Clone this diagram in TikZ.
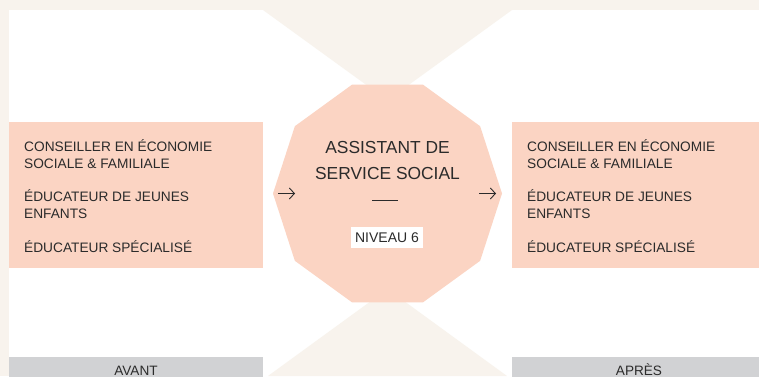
\documentclass[tikz,border=0pt]{standalone}
\usepackage{fontspec}
\setmainfont{Liberation Sans}
\usetikzlibrary{arrows.meta, positioning, shapes.geometric}
\definecolor{beige}{HTML}{F8F3ED}
\definecolor{peche}{HTML}{FBD4C3}
\definecolor{gris}{HTML}{D1D2D4}
\definecolor{encre}{HTML}{2B2B2B}
\tikzset{
    liste/.style = {fill=peche, anchor=north west, inner sep=0pt, outer sep=0pt, minimum width=254pt, minimum height=146pt},
    metier/.style = {anchor=base west, align=left, inner sep=0pt, text=encre, font=\fontsize{13.7}{16.6}\selectfont},
    barre/.style = {fill=gris, anchor=north west, inner sep=0pt, outer sep=0pt, minimum width=254pt, minimum height=30pt},
    etiquette/.style = {anchor=base, inner sep=0pt, text=encre, font=\fontsize{13.6}{16}\selectfont},
    diplome/.style = {regular polygon, regular polygon sides=10, fill=peche, inner sep=0pt, outer sep=0pt, minimum size=229pt},
    niveau/.style = {fill=white, inner sep=0pt, minimum width=72pt, minimum height=21pt, text=encre, font=\fontsize{14}{16}\selectfont}
}

\begin{document}
\begin{tikzpicture}[x=1pt, y=1pt, >={Straight Barb[length=5pt, width=11pt]}]
    \clip (0,0) rectangle (759,376);
    % Fond
    \fill[beige] (0,0) rectangle (759,376);
    \fill[white] (9,0) rectangle (759,366);
    \fill[beige] (263,366) -- (512,366) -- (387.5,275.7) -- cycle;
    \fill[beige] (268,0) -- (507,0) -- (387.5,87) -- cycle;
    % Noeuds
    \node[diplome] (dip) at (387.5,182.5) {};
    \node[anchor=base, align=center, inner sep=0pt, text=encre, font=\fontsize{17.4}{26}\selectfont] (titre) at (387.5,196.5) {ASSISTANT DE\\SERVICE SOCIAL};
    \node[niveau] (niv) at (387,138.5) {NIVEAU 6};
    \draw[encre, line width=1pt] (372,175.3) -- (398,175.3);

    \node[liste] (avant) at (9,254) {};
    \node[metier] (cesf-a) at ([xshift=15pt, yshift=-46pt]avant.north west) {CONSEILLER EN ÉCONOMIE\\SOCIALE \& FAMILIALE};
    \node[metier] (eje-a) at ([yshift=-50pt]cesf-a.base west) {ÉDUCATEUR DE JEUNES\\ENFANTS};
    \node[metier] (es-a) at ([yshift=-34pt]eje-a.base west) {ÉDUCATEUR SPÉCIALISÉ};

    \node[liste] (apres) at (512,254) {};
    \node[metier] (cesf-p) at ([xshift=15pt, yshift=-46pt]apres.north west) {CONSEILLER EN ÉCONOMIE\\SOCIALE \& FAMILIALE};
    \node[metier] (eje-p) at ([yshift=-50pt]cesf-p.base west) {ÉDUCATEUR DE JEUNES\\ENFANTS};
    \node[metier] (es-p) at ([yshift=-34pt]eje-p.base west) {ÉDUCATEUR SPÉCIALISÉ};

    \node[barre] (bar-a) at (9,19) {};
    \node[etiquette] at ([yshift=-18pt]bar-a.north) {AVANT};
    \node[barre] (bar-p) at (512,19) {};
    \node[etiquette] at ([yshift=-18pt]bar-p.north) {APRÈS};
    % Fleches
    \coordinate (g1) at ([xshift=5pt]dip.west);
    \coordinate (g2) at ([xshift=22pt]dip.west);
    \coordinate (d1) at ([xshift=-23pt]dip.east);
    \coordinate (d2) at ([xshift=-6pt]dip.east);
    \draw[->, encre, line width=0.9pt] (g1) -- (g2);
    \draw[->, encre, line width=0.9pt] (d1) -- (d2);
\end{tikzpicture}
\end{document}
